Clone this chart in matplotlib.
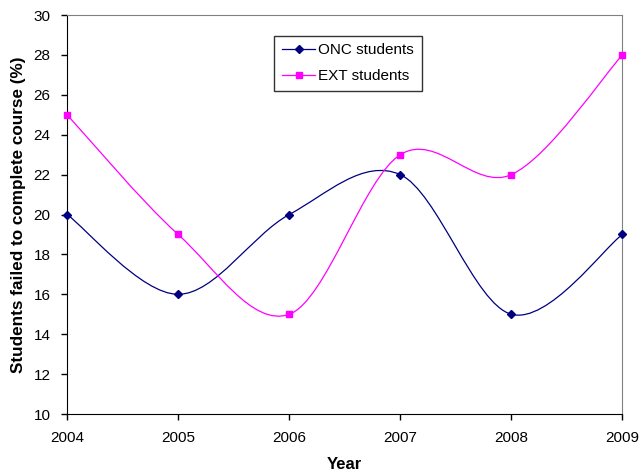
import numpy as np
import matplotlib.pyplot as plt
from matplotlib.path import Path
from matplotlib.patches import PathPatch
from matplotlib.lines import Line2D

plt.rcParams['font.family'] = ['Liberation Sans', 'DejaVu Sans']

years = [2004, 2005, 2006, 2007, 2008, 2009]
onc_students = [20, 16, 20, 22, 15, 19]
ext_students = [25, 19, 15, 23, 22, 28]


def smooth_path(x, y):
    # cubic bezier through the points, spreadsheet-style smoothing
    pts = np.column_stack([x, y]).astype(float)
    ext = np.vstack([pts[0], pts, pts[-1]])
    verts = [pts[0]]
    codes = [Path.MOVETO]
    for i in range(1, len(ext) - 2):
        p0, p1, p2, p3 = ext[i - 1], ext[i], ext[i + 1], ext[i + 2]
        c1 = p1 + (p2 - p0) / 6
        c2 = p2 - (p3 - p1) / 6
        verts += [c1, c2, p2]
        codes += [Path.CURVE4] * 3
    return Path(verts, codes)


fig = plt.figure(figsize=(6.39, 4.71), dpi=100)
ax = fig.add_axes([0.105, 0.121, 0.869, 0.847])

series = [
    (onc_students, '#000080', 'D', 4.5, 'ONC students'),
    (ext_students, '#FF00FF', 's', 5, 'EXT students'),
]
handles = []
for vals, color, marker, ms, label in series:
    ax.add_patch(PathPatch(smooth_path(years, vals), facecolor='none',
                           edgecolor=color, lw=0.9, zorder=2))
    ax.plot(years, vals, ls='none', marker=marker, ms=ms, color=color,
            markeredgecolor=color, zorder=3, clip_on=False)
    handles.append(Line2D([], [], color=color, lw=0.9, marker=marker,
                          ms=ms, label=label))

ax.set_xlim(2004, 2009)
ax.set_ylim(10, 30)
ax.set_xticks(years)
ax.set_yticks(range(10, 31, 2))
ax.tick_params(labelsize=11, length=4, width=1, colors='black', pad=8)

for side in ['top', 'right']:
    ax.spines[side].set_color('#808080')
for side in ['left', 'bottom']:
    ax.spines[side].set_color('black')

ax.set_xlabel('Year', fontsize=12, fontweight='bold', labelpad=9)
ax.set_ylabel('Students failed to complete course (%)', fontsize=12.3,
              fontweight='bold', labelpad=5)

leg = fig.legend(handles=handles, loc='upper left',
                 bbox_to_anchor=(0.429, 0.924), fontsize=11, frameon=True,
                 fancybox=False, handlelength=2.2, borderpad=0.5,
                 labelspacing=0.75, handletextpad=0.2, borderaxespad=0)
leg.get_frame().set_edgecolor('black')
leg.get_frame().set_linewidth(1)

fig.savefig('out.png', dpi=100)
